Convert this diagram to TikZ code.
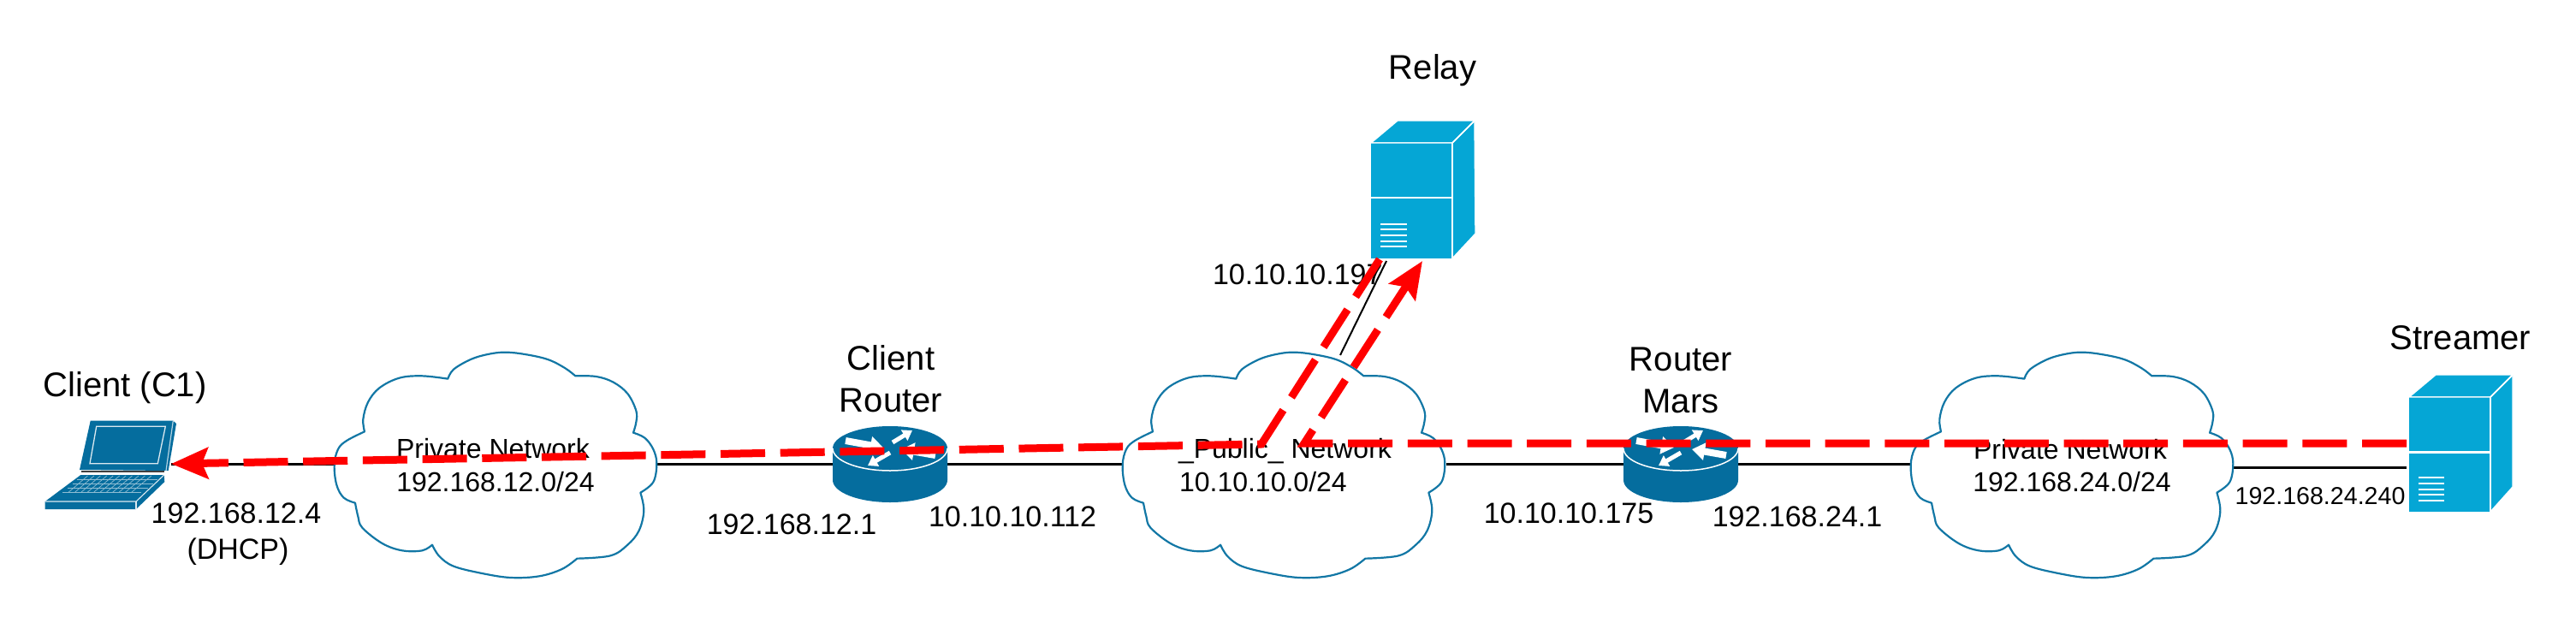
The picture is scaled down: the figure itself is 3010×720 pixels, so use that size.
\documentclass[tikz,border=0pt]{standalone}
\usepackage{fontspec}
\setmainfont{Liberation Sans}
\usetikzlibrary{arrows.meta}
\definecolor{ciscoDark}{HTML}{056D9E}
\definecolor{ciscoLight}{HTML}{05A6D5}
\definecolor{cloudLine}{HTML}{1277A5}
\definecolor{pathRed}{HTML}{FF0000}
\tikzset{
  x=1pt,y=-1pt,
  hull/.style={inner sep=0pt,outer sep=0pt,draw=none},
  lbl/.style={anchor=base,inner sep=0pt,outer sep=0pt,text=black},
  fsA/.style={font=\fontsize{40}{48}\selectfont},
  fsB/.style={font=\fontsize{34}{40}\selectfont},
  fsC/.style={font=\fontsize{32}{38}\selectfont},
  fsD/.style={font=\fontsize{28.6}{34}\selectfont},
  wire/.style={draw=black,line width=3pt},
  thinwire/.style={draw=black,line width=2pt},
  redpath/.style={draw=pathRed,line width=9pt,dash pattern=on 52pt off 17.7pt,
    -{Stealth[length=43pt,width=36pt,inset=7pt,fill=pathRed]}},
  facet/.style={fill=ciscoLight,draw=white,line width=1.4pt,line join=round},
  ventline/.style={draw=white,line width=1.3pt},
  rarrowwide/.style={draw=white,line width=8pt,-{Triangle[length=15pt,width=20pt,fill=white]}},
  rarrownarrow/.style={draw=white,line width=5pt,-{Triangle[length=11pt,width=14pt,fill=white]}},
  cloudshape/.pic={
    \begin{scope}[xscale=.33333,yscale=.33333]
      \filldraw[draw=cloudLine,fill=white,line width=2.2pt,line join=round]
        (138,313)
        -- plot[smooth,tension=.6] coordinates {(138,313)(133,270)(150,210)(190,160)(260,125)(340,118)(430,128)}
        -- plot[smooth,tension=.6] coordinates {(430,128)(450,95)(510,60)(570,42)(630,35)(700,42)(780,60)(840,90)(877,118)}
        -- plot[smooth,tension=.6] coordinates {(877,118)(950,120)(1010,140)(1060,180)(1090,240)(1090,280)(1080,317)}
        -- plot[smooth,tension=.6] coordinates {(1080,317)(1120,335)(1150,375)(1162,425)(1150,490)(1105,527)}
        -- plot[smooth,tension=.6] coordinates {(1105,527)(1117,590)(1100,660)(1060,710)(1000,748)(883,758)}
        -- plot[smooth,tension=.6] coordinates {(883,758)(830,795)(750,820)(650,825)(550,810)(450,785)(400,750)(375,710)}
        -- plot[smooth,tension=.6] coordinates {(375,710)(340,730)(270,730)(200,705)(130,650)(115,610)(105,563)}
        -- plot[smooth,tension=.6] coordinates {(105,563)(65,545)(40,500)(32,430)(45,375)(75,345)(138,313)}
        -- cycle;
    \end{scope}
  },
  routershape/.pic={
    \fill[ciscoDark] (-67,-18) -- (-67,19) arc[start angle=180,end angle=360,x radius=67pt,y radius=26pt]
       -- (67,-18) arc[start angle=0,end angle=180,x radius=67pt,y radius=26pt] -- cycle;
    \draw[white,line width=1.5pt] (-67,-18) arc[start angle=180,end angle=360,x radius=67pt,y radius=26pt];
    \draw[rarrowwide] (-52,-27) -- (-8,-19);
    \draw[rarrownarrow] (3,-25) -- (26,-39);
    \draw[rarrownarrow] (0,-13) -- (-26,2);
    \draw[rarrowwide] (53,-10) -- (13,-17);
  }
}
\begin{document}
\begin{tikzpicture}
\useasboundingbox (0,0) rectangle (3010,720);
\fill[white] (0,0) rectangle (3010,720);

% hulls of the drawn devices
\node[hull,minimum width=147pt,minimum height=105pt] (laptop) at (126.5,542) {};
\node[hull,minimum width=375pt,minimum height=264pt] (cloudA) at (579.5,542) {};
\node[hull,minimum width=134pt,minimum height=90pt] (routerA) at (1040,542) {};
\node[hull,minimum width=377pt,minimum height=264pt] (cloudB) at (1501.5,542) {};
\node[hull,minimum width=134pt,minimum height=90pt] (routerB) at (1964,542) {};
\node[hull,minimum width=376pt,minimum height=264pt] (cloudC) at (2422,542) {};
\node[hull,minimum width=124pt,minimum height=160pt] (streamer) at (2874,546) {};
\coordinate (relayPort) at (1620,305);
\coordinate (cloudBTop) at (1566,415);

% black links
\draw[wire] (laptop.east) -- (cloudA.west);
\draw[wire] (cloudA.east) -- (routerA.west);
\draw[wire] (routerA.east) -- (cloudB.west);
\draw[wire] (cloudB.east) -- (routerB.west);
\draw[wire] (routerB.east) -- (cloudC.west);
\draw[wire] (cloudC.east |- streamer.west) -- (streamer.west);
\draw[thinwire] (cloudBTop) -- (relayPort);

% clouds
\pic at (380,400) {cloudshape};
\pic at (1301,400) {cloudshape};
\pic at (2222,400) {cloudshape};

% routers
\pic at (1040,542) {routershape};
\pic at (1964,542) {routershape};

% laptop
\fill[ciscoDark] (105.7,491.7) -- (202.3,491.7) -- (206,495) -- (196.7,550) -- (93,549) -- cycle;
\draw[white!70!ciscoDark,line width=1.2pt] (202.3,491.7) -- (194,550);
\draw[white!85!ciscoDark,line width=1.3pt] (112.7,498.3) -- (193.3,498.3) -- (184.3,541.7) -- (105,541.7) -- cycle;
\draw[black!75,line width=1.2pt] (95,551) -- (192,551);
\fill[ciscoDark] (94.3,555) -- (191.7,555) -- (192.3,563) -- (159,595) -- (52.7,595) -- (52.7,586) -- cycle;
\draw[white!85!ciscoDark,line width=1.1pt] (52.7,586) -- (159,586) -- (191.7,555);
\draw[white!85!ciscoDark,line width=1.1pt] (159,586) -- (159,595);
\foreach \y/\a/\b in {560/90/184,565/84.5/179,570/79/173,575/73/165}{
  \draw[white!55!ciscoDark,line width=.7pt] (\a,\y) -- (\b,\y);
}
\foreach \t in {0.08,0.16,...,0.95}{
  \draw[white!55!ciscoDark,line width=.7pt] ({95+93*\t},556) -- ({73+92*\t},575);
}

% relay server
\fill[facet] (1602,167) -- (1633,141) -- (1723,141) -- (1697,167) -- cycle;
\fill[facet] (1697,167) -- (1723,141) -- (1724,273) -- (1697,302) -- cycle;
\filldraw[facet,draw=none] (1602,167) rectangle (1697,302);
\draw[white,line width=1.4pt] (1602,167) -- (1697,167) -- (1723,141);
\draw[white,line width=1.4pt] (1697,167) -- (1697,302);
\draw[white,line width=2.4pt] (1602,231) -- (1697,231);
\foreach \y in {262,268,275,282,288}{\draw[ventline] (1613,\y) -- (1644,\y);}

% streamer server
\fill[facet] (2815,464) -- (2846,438) -- (2936,438) -- (2910,464) -- cycle;
\fill[facet] (2910,464) -- (2936,438) -- (2936,569) -- (2910,598) -- cycle;
\filldraw[facet,draw=none] (2815,464) rectangle (2910,598);
\draw[white,line width=1.4pt] (2815,464) -- (2910,464) -- (2936,438);
\draw[white,line width=1.4pt] (2910,464) -- (2910,598);
\draw[white,line width=3pt] (2815,528) -- (2910,528);
\foreach \y in {558,565,572,578,585}{\draw[ventline] (2826,\y) -- (2856,\y);}

% labels
\node[lbl,fsA] (tClient) at (146,463) {Client (C1)};
\node[lbl,fsC] (tPrivA) at (576,535) {Private Network};
\node[lbl,fsC] (tNetA) at (579,574) {192.168.12.0/24};
\node[lbl,fsB] (tDhcpA) at (276,611) {192.168.12.4};
\node[lbl,fsB] (tDhcpB) at (278,653) {(DHCP)};
\node[lbl,fsA] (tCR1) at (1041,432) {Client};
\node[lbl,fsA] (tCR2) at (1041,481) {Router};
\node[lbl,fsB] (tIpA) at (925,624) {192.168.12.1};
\node[lbl,fsB] (tIpB) at (1183,615) {10.10.10.112};
\node[lbl,fsC,anchor=base west] (tPub) at (1377,535) {\_Public\_ Network};
\node[lbl,fsC,anchor=base west] (tNetB) at (1378,574) {10.10.10.0/24};
\node[lbl,fsA] (tRelay) at (1674,92) {Relay};
\node[lbl,fsB,anchor=base west] (tIpC) at (1417,332) {10.10.10.197};
\node[lbl,fsA] (tRM1) at (1964,433) {Router};
\node[lbl,fsA] (tRM2) at (1964,482) {Mars};
\node[lbl,fsB] (tIpD) at (1833,611) {10.10.10.175};
\node[lbl,fsB] (tIpE) at (2100,615) {192.168.24.1};
\node[lbl,fsC] (tPrivC) at (2419,536) {Private Network};
\node[lbl,fsC] (tNetC) at (2421,574) {192.168.24.0/24};
\node[lbl,fsD] (tIpF) at (2711,589) {192.168.24.240};
\node[lbl,fsA] (tStream) at (2875,408) {Streamer};

% red traffic paths
\coordinate (streamRed) at (2812,518);
\coordinate (bendOut) at (1524,518);
\coordinate (relayTip) at (1662,305);
\coordinate (relayOut) at (1612,303);
\coordinate (bendBack) at (1474,519);
\draw[redpath] (streamRed) -- (bendOut) -- (relayTip);
\draw[redpath] (relayOut) -- (bendBack) -- (laptop.east);
\end{tikzpicture}
\end{document}
